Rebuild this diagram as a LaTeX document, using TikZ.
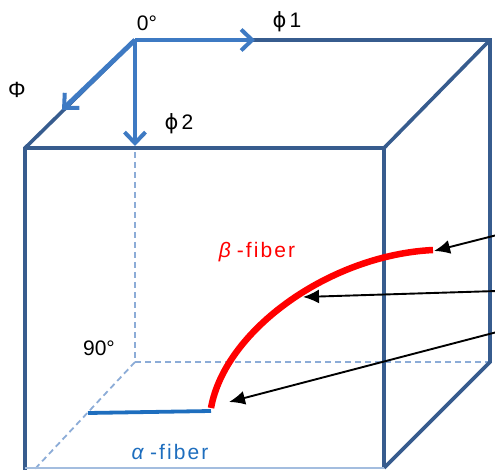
\documentclass[tikz,border=0pt]{standalone}
\usepackage{fontspec}
\setmainfont{Liberation Sans}
\newfontfamily\symfont{DejaVu Sans}
\usetikzlibrary{arrows.meta}
\definecolor{boxblue}{RGB}{55,92,142}
\definecolor{arrblue}{RGB}{62,122,195}
\definecolor{dashblue}{RGB}{140,172,215}
\definecolor{alphablue}{RGB}{30,110,190}
\tikzset{
  boxline/.style={draw=boxblue,line width=3.6pt},
  axisarrow/.style={draw=arrblue,line width=4.8pt,-{Straight Barb[length=11pt,width=21pt,line width=4pt]}},
  hidden/.style={draw=dashblue,line width=1.8pt,dash pattern=on 6pt off 4pt},
  pointer/.style={draw=black,line width=1.9pt,-{Latex[length=16pt,width=14pt]}},
  lbl/.style={inner sep=0pt,font=\fontsize{21}{21}\selectfont},
}
\begin{document}
\begin{tikzpicture}[x=1pt,y=-1pt]
\useasboundingbox (0,0) rectangle (495,470);
% corners
\coordinate (O) at (135,40);
\coordinate (BR) at (490,40);
\coordinate (BRb) at (490,362);
\coordinate (BLb) at (135,362);
\coordinate (FTL) at (25,148);
\coordinate (FTR) at (384,148);
\coordinate (FBR) at (384,468);
\coordinate (FBL) at (25,470);
\coordinate (FBLd) at (34,470);
% hidden edges
\draw[hidden] (135,152) -- (BLb);
\draw[hidden] (BLb) -- (BRb);
\draw[hidden] (BLb) -- (FBLd);
% box
\draw[boxline] (O) -- (BR) -- (BRb) -- (FBR);
\draw[boxline] (O) -- (FTL) -- (FBL);
\draw[boxline] (FTL) -- (FTR) -- (FBR);
\draw[boxline] (FTR) -- (BR);
\draw[draw=dashblue!80,line width=1.4pt] (25,468) -- (384,468);
% axis arrows
\draw[axisarrow] (O) -- (255,40);
\draw[axisarrow] (O) -- (62,110);
\draw[axisarrow] (O) -- (135,146);
% fibers
\coordinate (A0) at (88,413);
\coordinate (A1) at (211,411);
\draw[alphablue,line width=3.8pt] (A0) -- (A1);
\coordinate (B0) at (211,408);
\coordinate (B1) at (433,250);
\draw[red,line width=6.5pt] (B0) .. controls (225,330) and (330,255) .. (B1);
% labels
\node[lbl] (zero) at (147,23) {0°};
\node[lbl] (phi1) at (287,22) {{\symfont ϕ}\kern3pt 1};
\node[lbl] (Phi) at (17,90) {\fontsize{22}{22}\selectfont Φ};
\node[lbl] (phi2) at (179,124) {{\symfont ϕ}\kern3pt 2};
\node[lbl] (ninety) at (99,348) {90°};
\node[lbl,text=red] (beta) at (257,252) {\textit{β}\kern6pt\addfontfeatures{LetterSpace=10}-fiber};
\node[lbl,text=alphablue] (alpha) at (170,452) {\textit{α}\kern6pt\addfontfeatures{LetterSpace=10}-fiber};
% pointers
\coordinate (P1) at (497,235);
\coordinate (P2) at (497,291);
\coordinate (P3) at (497,332);
\coordinate (T1) at (434,251);
\coordinate (T2) at (303,297);
\coordinate (T3) at (229,402);
\draw[pointer] (P1) -- (T1);
\draw[pointer] (P2) -- (T2);
\draw[pointer] (P3) -- (T3);
\end{tikzpicture}
\end{document}
